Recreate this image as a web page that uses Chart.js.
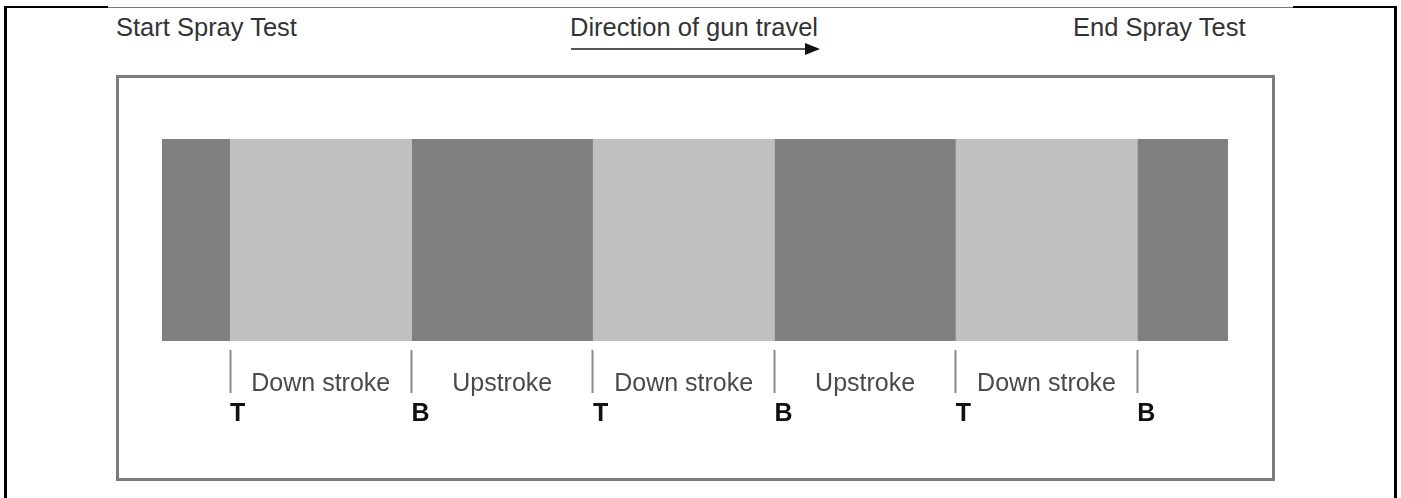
<!DOCTYPE html>
<html>
<head>
<meta charset="utf-8">
<script src="https://cdn.jsdelivr.net/npm/chart.js@4/dist/chart.umd.min.js"></script>
<style>
  html, body { margin: 0; padding: 0; background: #fff; }
  #wrap { position: relative; width: 1401px; height: 498px; overflow: hidden; }
  #sprayChart { position: absolute; left: 0; top: 0; }
  .line { position: absolute; }
  .head {
    position: absolute; top: 15px; font-family: "Liberation Sans", Arial, sans-serif;
    font-size: 25.5px; line-height: 25px; color: #333; white-space: nowrap;
  }
  #arrowHead {
    position: absolute; left: 805px; top: 43px; width: 0; height: 0;
    border-left: 15px solid #111; border-top: 6px solid transparent; border-bottom: 6px solid transparent;
  }
  #innerBox {
    position: absolute; left: 116px; top: 75px; width: 1153px; height: 400px;
    border: 3px solid #7c7c7c;
  }
</style>
</head>
<body>
<div id="wrap">
  <div class="line" style="left:4px;top:6px;width:104px;height:2px;background:#000"></div>
  <div class="line" style="left:108px;top:7px;width:1185px;height:1px;background:#777"></div>
  <div class="line" style="left:1293px;top:6px;width:104px;height:2px;background:#000"></div>
  <div class="line" style="left:4px;top:6px;width:3px;height:492px;background:#000"></div>
  <div class="line" style="left:1394px;top:6px;width:3px;height:492px;background:#000"></div>

  <div class="head" style="left:116px">Start Spray Test</div>
  <div class="head" style="left:570px">Direction of gun travel</div>
  <div class="head" style="left:1073px">End Spray Test</div>
  <div class="line" style="left:571px;top:48px;width:236px;height:2px;background:#555"></div>
  <div id="arrowHead"></div>

  <div id="innerBox"></div>
  <canvas id="sprayChart" width="1401" height="498"></canvas>
</div>
<script>
// segment widths, in units of one full stroke
const segmentWidths = [0.375, 1, 1, 1, 1, 1, 0.5];
const segmentNames = ["", "Down stroke", "Upstroke", "Down stroke", "Upstroke", "Down stroke", ""];
const segmentColors = ["#808080", "#c0c0c0", "#808080", "#c0c0c0", "#808080", "#c0c0c0", "#808080"];
const boundaryLabels = ["T", "B", "T", "B", "T", "B"];

const total = segmentWidths.reduce((a, b) => a + b, 0);
const boundaries = [];
let acc = 0;
for (let i = 0; i < segmentWidths.length - 1; i++) {
  acc += segmentWidths[i];
  boundaries.push(acc);
}

const strokeLabels = {
  id: "strokeLabels",
  afterDatasetsDraw(chart) {
    const ctx = chart.ctx;
    const xScale = chart.scales.x;
    ctx.save();
    ctx.font = "25px 'Liberation Sans', Arial, sans-serif";
    ctx.fillStyle = "#4a4a4a";
    ctx.textAlign = "center";
    ctx.textBaseline = "alphabetic";
    chart.data.datasets.forEach((ds, i) => {
      if (!segmentNames[i]) return;
      const bar = chart.getDatasetMeta(i).data[0];
      ctx.fillText(segmentNames[i], (bar.x + bar.base) / 2, xScale.top + 41);
    });
    ctx.restore();
  }
};

document.addEventListener("DOMContentLoaded", function () {
  const ctx = document.getElementById("sprayChart");
  new Chart(ctx, {
    type: "bar",
    data: {
      labels: ["Spray"],
      datasets: segmentWidths.map((w, i) => ({
        label: segmentNames[i],
        data: [w],
        backgroundColor: segmentColors[i],
        borderWidth: 0,
        barPercentage: 0.918,
        categoryPercentage: 1,
      })),
    },
    options: {
      indexAxis: "y",
      responsive: false,
      animation: false,
      layout: { padding: { left: 162, right: 173, top: 130, bottom: 63 } },
      scales: {
        x: {
          type: "linear",
          stacked: true,
          min: 0,
          max: total,
          afterBuildTicks: (axis) => {
            axis.ticks = boundaries.map((v) => ({ value: v }));
          },
          border: { display: false },
          grid: {
            drawOnChartArea: false,
            drawTicks: true,
            tickLength: 43,
            tickColor: "#8a8a8a",
            tickWidth: 2,
          },
          ticks: {
            autoSkip: false,
            maxRotation: 0,
            align: "start",
            padding: 6,
            color: "#111",
            font: { family: "'Liberation Sans', Arial, sans-serif", size: 25, weight: "bold" },
            callback: function (value, index) {
              return boundaryLabels[index];
            },
          },
        },
        y: { stacked: true, display: false },
      },
      plugins: {
        legend: { display: false },
        tooltip: { enabled: false },
      },
    },
    plugins: [strokeLabels],
  });
});
</script>
</body>
</html>
